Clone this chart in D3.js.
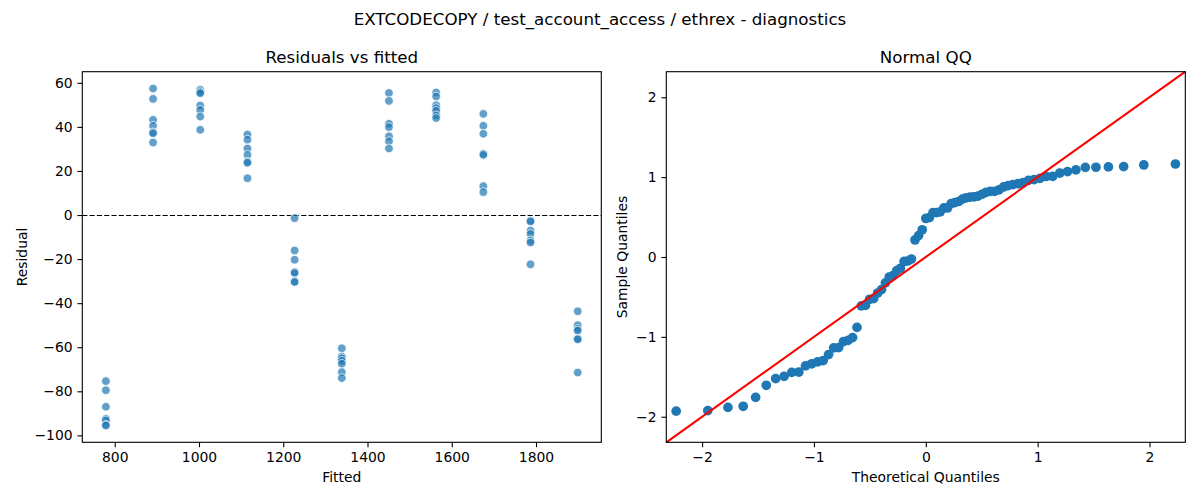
<!DOCTYPE html>
<meta charset="utf-8">
<head>
    <title>Diagnostics</title>
    <script src="https://d3js.org/d3.v7.min.js"></script>
    <style>
    body { margin: 0; background: #fff; }
    svg text { font-family: "DejaVu Sans", sans-serif; fill: #000; }
    .axis path, .axis line { stroke: #000; stroke-width: 1.1px; }
    .axis text { font-size: 13.9px; }
    </style>
</head>
<body>
<svg id="chart"></svg>
<script>
    // fitted value of each group, 7 residuals per group
    var fitted = [779, 891, 1003, 1115, 1227, 1339, 1451, 1563, 1675, 1787, 1899];
    var residuals = [
        [-75.4, -79.5, -87.0, -92.5, -93.2, -95.2, -95.5],
        [57.4, 52.7, 43.2, 40.5, 37.5, 37.1, 32.9],
        [56.8, 55.8, 55.3, 49.7, 47.7, 44.7, 38.7],
        [36.5, 34.2, 30.2, 27.3, 24.2, 23.7, 16.7],
        [-1.4, -16.1, -20.3, -25.9, -26.3, -30.1, -30.4],
        [-60.5, -64.2, -65.0, -66.2, -67.5, -71.3, -74.0],
        [55.4, 51.8, 41.4, 39.9, 35.7, 33.5, 30.2],
        [55.6, 53.8, 49.8, 48.5, 47.3, 45.2, 44.0],
        [45.9, 40.5, 36.9, 27.8, 27.3, 13.1, 10.4],
        [-2.6, -2.9, -7.1, -8.6, -11.6, -12.5, -22.4],
        [-43.7, -50.0, -51.7, -52.5, -56.2, -56.4, -71.5]
    ];
    var leftYTicks = [-100, -80, -60, -40, -20, 0, 20, 40, 60];
    var leftXTicks = [800, 1000, 1200, 1400, 1600, 1800];
    var qqTicks = [-2, -1, 0, 1, 2];

    var W = 1200, H = 500;
    var svg = d3.select("#chart").attr("width", W).attr("height", H);

    var top0 = 71.7, bot0 = 442.3;
    var left1 = 82.3, right1 = 601.3, left2 = 666.3, right2 = 1185.3;

    var minus = function(d) { return String(d).replace("-", "\u2212"); };

    // flatten
    var pts = [];
    fitted.forEach(function(f, i) {
        residuals[i].forEach(function(r) { pts.push({x: f, y: r}); });
    });

    function padded(ext) {
        var m = (ext[1] - ext[0]) * 0.05;
        return [ext[0] - m, ext[1] + m];
    }

    // ---------- left: residuals vs fitted ----------
    var x1 = d3.scaleLinear().domain(padded(d3.extent(pts, d => d.x))).range([left1, right1]);
    var y1 = d3.scaleLinear().domain(padded(d3.extent(pts, d => d.y))).range([bot0, top0]);

    var g1 = svg.append("g");
    var zeroY = Math.round(y1(0)) + 0.5;
    g1.append("line")
        .attr("x1", left1).attr("x2", right1)
        .attr("y1", zeroY).attr("y2", zeroY)
        .attr("stroke", "#000").attr("stroke-width", 1.2)
        .attr("stroke-dasharray", "5.1,2.2");

    g1.selectAll("circle").data(pts).enter().append("circle")
        .attr("cx", d => x1(d.x)).attr("cy", d => y1(d.y)).attr("r", 4.3)
        .attr("fill", "#1f77b4").attr("fill-opacity", 0.7)
        .attr("stroke", "#fff").attr("stroke-width", 0.7);

    g1.append("g").attr("class", "axis").attr("transform", "translate(0," + bot0 + ")")
        .call(d3.axisBottom(x1).tickValues(leftXTicks).tickFormat(d3.format("d")).tickSize(4.86).tickPadding(4.86).tickSizeOuter(0))
        .select(".domain").remove();
    g1.append("g").attr("class", "axis").attr("transform", "translate(" + left1 + ",0)")
        .call(d3.axisLeft(y1).tickValues(leftYTicks).tickFormat(minus).tickSize(4.86).tickPadding(4.86).tickSizeOuter(0))
        .select(".domain").remove();

    g1.append("rect").attr("x", left1).attr("y", top0)
        .attr("width", right1 - left1).attr("height", bot0 - top0)
        .attr("fill", "none").attr("stroke", "#000").attr("stroke-width", 1.1);

    g1.append("text").attr("x", (left1 + right1) / 2).attr("y", 482)
        .attr("text-anchor", "middle").style("font-size", "13.9px").text("Fitted");
    g1.append("text").attr("transform", "translate(27," + (top0 + bot0) / 2 + ") rotate(-90)")
        .attr("text-anchor", "middle").style("font-size", "13.9px").text("Residual");
    g1.append("text").attr("x", (left1 + right1) / 2).attr("y", 63.4)
        .attr("text-anchor", "middle").style("font-size", "16.7px").text("Residuals vs fitted");

    // ---------- right: normal QQ ----------
    // inverse normal cdf (Acklam)
    function ppf(p) {
        var a = [-39.69683028665376, 220.9460984245205, -275.9285104469687, 138.3577518672690, -30.66479806614716, 2.506628277459239];
        var b = [-54.47609879822406, 161.5858368580409, -155.6989798598866, 66.80131188771972, -13.28068155288572];
        var c = [-0.007784894002430293, -0.3223964580411365, -2.400758277161838, -2.549732539343734, 4.374664141464968, 2.938163982698783];
        var dd = [0.007784695709041462, 0.3224671290700398, 2.445134137142996, 3.754408661907416];
        var q, r;
        if (p < 0.02425) {
            q = Math.sqrt(-2 * Math.log(p));
            return (((((c[0]*q+c[1])*q+c[2])*q+c[3])*q+c[4])*q+c[5]) / ((((dd[0]*q+dd[1])*q+dd[2])*q+dd[3])*q+1);
        } else if (p > 1 - 0.02425) {
            q = Math.sqrt(-2 * Math.log(1 - p));
            return -(((((c[0]*q+c[1])*q+c[2])*q+c[3])*q+c[4])*q+c[5]) / ((((dd[0]*q+dd[1])*q+dd[2])*q+dd[3])*q+1);
        }
        q = p - 0.5; r = q * q;
        return (((((a[0]*r+a[1])*r+a[2])*r+a[3])*r+a[4])*r+a[5])*q / (((((b[0]*r+b[1])*r+b[2])*r+b[3])*r+b[4])*r+1);
    }

    var allRes = pts.map(d => d.y);
    var mu = d3.mean(allRes), sd = d3.deviation(allRes);
    var sample = allRes.map(r => (r - mu) / sd).sort(d3.ascending);
    var n = sample.length;
    var qq = sample.map((s, i) => ({t: ppf((i + 1) / (n + 1)), s: s}));

    var lim = [-2.32, 2.32];
    var x2 = d3.scaleLinear().domain(lim).range([left2, right2]);
    var y2 = d3.scaleLinear().domain(lim).range([bot0, top0]);

    var g2 = svg.append("g");
    g2.selectAll("circle").data(qq).enter().append("circle")
        .attr("cx", d => x2(d.t)).attr("cy", d => y2(d.s)).attr("r", 4.85)
        .attr("fill", "#1f77b4");

    g2.append("line")
        .attr("x1", x2(lim[0])).attr("y1", y2(lim[0]))
        .attr("x2", x2(lim[1])).attr("y2", y2(lim[1]))
        .attr("stroke", "red").attr("stroke-width", 2.08);

    g2.append("g").attr("class", "axis").attr("transform", "translate(0," + bot0 + ")")
        .call(d3.axisBottom(x2).tickValues(qqTicks).tickFormat(minus).tickSize(4.86).tickPadding(4.86).tickSizeOuter(0))
        .select(".domain").remove();
    g2.append("g").attr("class", "axis").attr("transform", "translate(" + left2 + ",0)")
        .call(d3.axisLeft(y2).tickValues(qqTicks).tickFormat(minus).tickSize(4.86).tickPadding(4.86).tickSizeOuter(0))
        .select(".domain").remove();

    g2.append("rect").attr("x", left2).attr("y", top0)
        .attr("width", right2 - left2).attr("height", bot0 - top0)
        .attr("fill", "none").attr("stroke", "#000").attr("stroke-width", 1.1);

    g2.append("text").attr("x", (left2 + right2) / 2).attr("y", 482)
        .attr("text-anchor", "middle").style("font-size", "13.9px").text("Theoretical Quantiles");
    g2.append("text").attr("transform", "translate(627," + (top0 + bot0) / 2 + ") rotate(-90)")
        .attr("text-anchor", "middle").style("font-size", "13.9px").text("Sample Quantiles");
    g2.append("text").attr("x", (left2 + right2) / 2).attr("y", 63.4)
        .attr("text-anchor", "middle").style("font-size", "16.7px").text("Normal QQ");

    svg.append("text").attr("x", W / 2).attr("y", 24.5)
        .attr("text-anchor", "middle").style("font-size", "16.7px")
        .text("EXTCODECOPY / test_account_access / ethrex - diagnostics");
</script>
</body>
</html>
